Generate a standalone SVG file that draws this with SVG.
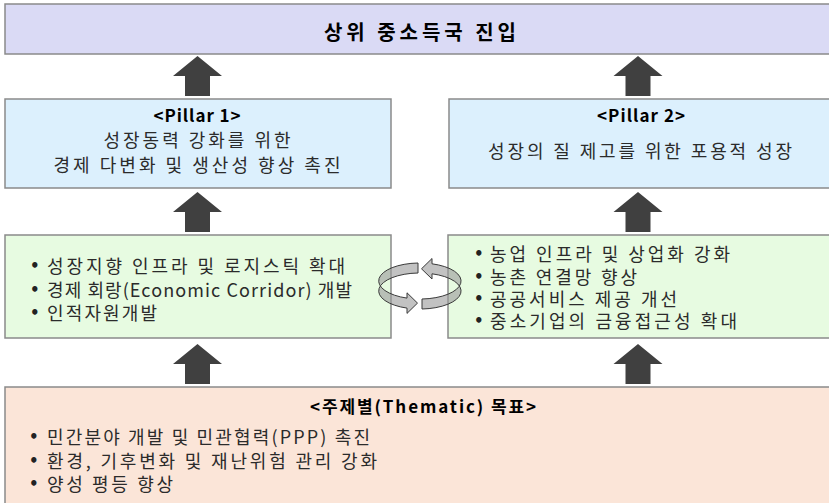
<svg xmlns="http://www.w3.org/2000/svg" xmlns:xlink="http://www.w3.org/1999/xlink" width="829" height="503" viewBox="0 0 829 503">
<style>
.box{stroke:#8a8a8a;stroke-width:1.5}
.t{font-family:"Noto Sans CJK KR","Malgun Gothic",sans-serif;fill:#222}
.b{font-weight:bold;fill:#000}
.body{font-size:18px;fill:#2b2b2b}
.bul{font-family:"DejaVu Sans",sans-serif;font-size:15px;font-weight:bold;fill:#222}
.arr{fill:#404040}
.cyc{fill:#9a9a9a;fill-opacity:0.6;stroke:#3a3a3a;stroke-width:1}
</style>
<defs>
<path id="up" d="M0 0 L24.5 20 L12.5 20 L12.5 40 L-12.5 40 L-12.5 20 L-24.5 20 Z"/>
</defs>
<g id="goal">
<rect class="box" x="5" y="4" width="830" height="50" fill="#dadaf5"/>
<text class="t b" x="420" y="40" font-size="20" text-anchor="middle" textLength="192" lengthAdjust="spacing">상위 중소득국 진입</text>
</g>
<g id="pillar1">
<rect class="box" x="5" y="99" width="386" height="89" fill="#dcf0fd"/>
<text class="t b" x="197" y="122" font-size="17" text-anchor="middle" textLength="87" lengthAdjust="spacing">&lt;Pillar 1&gt;</text>
<text class="t body" x="197" y="147" font-size="19" text-anchor="middle" textLength="187" lengthAdjust="spacing">성장동력 강화를 위한</text>
<text class="t body" x="197" y="172" font-size="19" text-anchor="middle" textLength="287" lengthAdjust="spacing">경제 다변화 및 생산성 향상 촉진</text>
</g>
<g id="pillar2">
<rect class="box" x="449" y="99" width="390" height="89" fill="#dcf0fd"/>
<text class="t b" x="641" y="122" font-size="17" text-anchor="middle" textLength="88" lengthAdjust="spacing">&lt;Pillar 2&gt;</text>
<text class="t body" x="640" y="158" font-size="19" text-anchor="middle" textLength="304" lengthAdjust="spacing">성장의 질 제고를 위한 포용적 성장</text>
</g>
<g id="actions1">
<rect class="box" x="5" y="235" width="386" height="103" fill="#e7fbe1"/>
<text class="bul" x="30" y="271">•</text>
<text class="t body" x="47" y="273" textLength="298" lengthAdjust="spacing">성장지향 인프라 및 로지스틱 확대</text>
<text class="bul" x="30" y="295">•</text>
<text class="t body" x="47" y="297" textLength="305" lengthAdjust="spacing">경제 회랑(Economic Corridor) 개발</text>
<text class="bul" x="30" y="318">•</text>
<text class="t body" x="47" y="320" textLength="110" lengthAdjust="spacing">인적자원개발</text>
</g>
<g id="actions2">
<rect class="box" x="448" y="235" width="390" height="103" fill="#e7fbe1"/>
<text class="bul" x="474" y="259">•</text>
<text class="t body" x="490" y="261" font-size="17" textLength="240" lengthAdjust="spacing">농업 인프라 및 상업화 강화</text>
<text class="bul" x="474" y="282">•</text>
<text class="t body" x="490" y="284" font-size="17" textLength="147" lengthAdjust="spacing">농촌 연결망 향상</text>
<text class="bul" x="474" y="304">•</text>
<text class="t body" x="490" y="306" font-size="17" textLength="187" lengthAdjust="spacing">공공서비스 제공 개선</text>
<text class="bul" x="474" y="326">•</text>
<text class="t body" x="490" y="328" font-size="17" textLength="247" lengthAdjust="spacing">중소기업의 금융접근성 확대</text>
</g>
<g id="thematic">
<rect class="box" x="5" y="387" width="830" height="130" fill="#fbe5d8"/>
<text class="t b" x="423" y="413" font-size="17" text-anchor="middle" textLength="226" lengthAdjust="spacing">&lt;주제별(Thematic) 목표&gt;</text>
<text class="bul" x="29" y="442">•</text>
<text class="t body" x="47" y="444" textLength="323" lengthAdjust="spacing">민간분야 개발 및 민관협력(PPP) 촉진</text>
<text class="bul" x="29" y="466">•</text>
<text class="t body" x="47" y="468" textLength="330" lengthAdjust="spacing">환경, 기후변화 및 재난위험 관리 강화</text>
<text class="bul" x="29" y="489">•</text>
<text class="t body" x="47" y="491" textLength="126" lengthAdjust="spacing">양성 평등 향상</text>
</g>
<g id="connectors">
<use xlink:href="#up" class="arr" x="197.5" y="56"/>
<use xlink:href="#up" class="arr" x="638" y="56"/>
<use xlink:href="#up" class="arr" x="197.5" y="192"/>
<use xlink:href="#up" class="arr" x="638" y="192"/>
<use xlink:href="#up" class="arr" x="197.5" y="344"/>
<use xlink:href="#up" class="arr" x="638" y="344"/>
<path class="cyc" d="M422 299 A41 18 0 0 0 432 263.8 L432 258.5 L421.5 268.8 L432 279 L432 273.8 A41 18 0 0 1 422 309 Z"/>
<path class="cyc" d="M418 263 A41 18 0 0 0 407 298.1 L407 292.8 L417.5 303.1 L407 313.4 L407 308.1 A41 18 0 0 1 418 273 Z"/>
</g>
</svg>
